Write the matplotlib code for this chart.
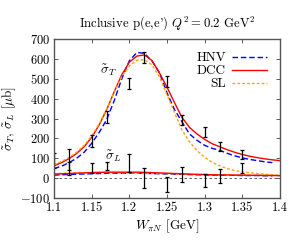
import numpy as np
import matplotlib
matplotlib.use("Agg")
import matplotlib.pyplot as plt

plt.rcParams['font.family'] = 'serif'
plt.rcParams['font.serif'] = ['cmr10', 'DejaVu Serif']
plt.rcParams['mathtext.fontset'] = 'cm'
plt.rcParams['axes.unicode_minus'] = False
plt.rcParams['axes.formatter.use_mathtext'] = True

# data points
w_T = [1.10, 1.12, 1.15, 1.17, 1.20, 1.22, 1.25, 1.27, 1.30, 1.32, 1.35]
sig_T = [88, 93, 188, 307, 478, 605, 487, 292, 233, 159, 117]
err_T = [38, 52, 29, 29, 28, 28, 27, 24, 26, 25, 22]

w_L = [1.12, 1.15, 1.17, 1.20, 1.22, 1.25, 1.27, 1.30, 1.32, 1.35]
sig_L = [49, 50, 62, 77, 0, -33, 16, -12, 9, 51]
err_L = [34, 24, 21, 45, 50, 37, 38, 35, 35, 26]

# model curves
w_curve = [1.10, 1.11, 1.12, 1.13, 1.14, 1.15, 1.16, 1.17, 1.18, 1.19, 1.20,
           1.21, 1.22, 1.23, 1.24, 1.25, 1.26, 1.27, 1.28, 1.29, 1.30,
           1.31, 1.32, 1.33, 1.34, 1.35, 1.36, 1.37, 1.38, 1.39, 1.40]
dcc_T = [62, 78, 98, 124, 158, 205, 268, 345, 435, 520, 583,
         614, 620, 592, 530, 458, 380, 305, 255, 222, 195,
         173, 158, 143, 130, 119, 110, 103, 97, 92, 88]
sl_T = [68, 84, 104, 130, 165, 212, 273, 348, 432, 510, 565,
        593, 596, 570, 510, 420, 330, 242, 182, 138, 105,
        80, 62, 48, 38, 32, 27, 23, 20, 17, 15]
dcc_L = [20, 22, 23, 25, 26, 28, 29, 30, 30, 30, 30,
         30, 29, 28, 26, 25, 23, 22, 20, 19, 18,
         17, 16, 16, 15, 15, 14, 14, 13, 13, 12]
sl_L = [22, 24, 25, 26, 27, 28, 28, 28, 28, 27, 27,
        26, 25, 24, 23, 22, 21, 20, 19, 18, 18,
        17, 17, 16, 16, 16, 15, 15, 15, 14, 14]

w_hnv = w_curve[:-1]
hnv_T = [48, 60, 78, 100, 130, 175, 230, 295, 390, 500, 590,
         632, 628, 590, 530, 430, 345, 283, 222, 190, 165,
         150, 140, 125, 112, 102, 94, 88, 82, 78]
hnv_L = [15, 17, 18, 20, 21, 22, 23, 24, 25, 25, 25,
         25, 24, 23, 22, 21, 20, 19, 18, 17, 16,
         15, 15, 14, 14, 13, 13, 13, 12, 12]

fig = plt.figure(figsize=(3.0, 2.4), dpi=100)
ax = fig.add_axes([0.18, 0.175, 0.753, 0.6625])

ax.axhline(0, color='#444444', lw=0.6, ls=(0, (3, 3)))

ax.plot(w_hnv, hnv_T, color='#0000ff', lw=1.0, ls=(0, (4, 2)), label='HNV')
ax.plot(w_curve, dcc_T, color='#ff0000', lw=1.0, label='DCC')
ax.plot(w_curve, sl_T, color='#ffa500', lw=1.0, ls=(0, (2, 1.5)), label='SL')
ax.plot(w_hnv, hnv_L, color='#0000ff', lw=1.0, ls=(0, (4, 2)))
ax.plot(w_curve, sl_L, color='#ffa500', lw=1.0, ls=(0, (2, 1.5)))
ax.plot(w_curve, dcc_L, color='#ff0000', lw=1.0)

ax.errorbar(w_T, sig_T, yerr=err_T, fmt='none', ecolor='black',
            elinewidth=0.9, capsize=1.5, capthick=0.9)
ax.errorbar(w_L, sig_L, yerr=err_L, fmt='none', ecolor='black',
            elinewidth=0.9, capsize=1.5, capthick=0.9)

ax.text(1.172, 545, r'$\tilde\sigma_T$', fontsize=9.5, ha='center', va='center')
ax.text(1.178, 112, r'$\tilde\sigma_L$', fontsize=9.5, ha='center', va='center')

ax.set_xlim(1.1, 1.4)
ax.set_ylim(-100, 700)
ax.set_xticks([1.1, 1.15, 1.2, 1.25, 1.3, 1.35, 1.4])
ax.set_xticklabels(['1.1', '1.15', '1.2', '1.25', '1.3', '1.35', '1.4'])
ax.set_yticks(range(-100, 701, 100))
ax.tick_params(direction='in', top=True, right=True, labelsize=9,
               length=3, width=0.6, color='#444444', pad=3)
for s in ax.spines.values():
    s.set_color('#555555')
    s.set_linewidth(1.0)

ax.set_xlabel(r'$W_{\pi N}$ [GeV]', fontsize=9.5, labelpad=2)
ax.set_ylabel(r'$\tilde\sigma_T$, $\tilde\sigma_L$ [$\mu$b]', fontsize=9.5, labelpad=1)
ax.set_title(r"Inclusive p(e,e') $Q^2=0.2$ GeV$^2$", fontsize=9.2, pad=9)

ax.legend(loc='upper right', frameon=False, markerfirst=False, fontsize=9.5,
          handlelength=2.6, handletextpad=0.5, labelspacing=0.05,
          borderaxespad=0.6)

fig.savefig('out.png', dpi=100)
